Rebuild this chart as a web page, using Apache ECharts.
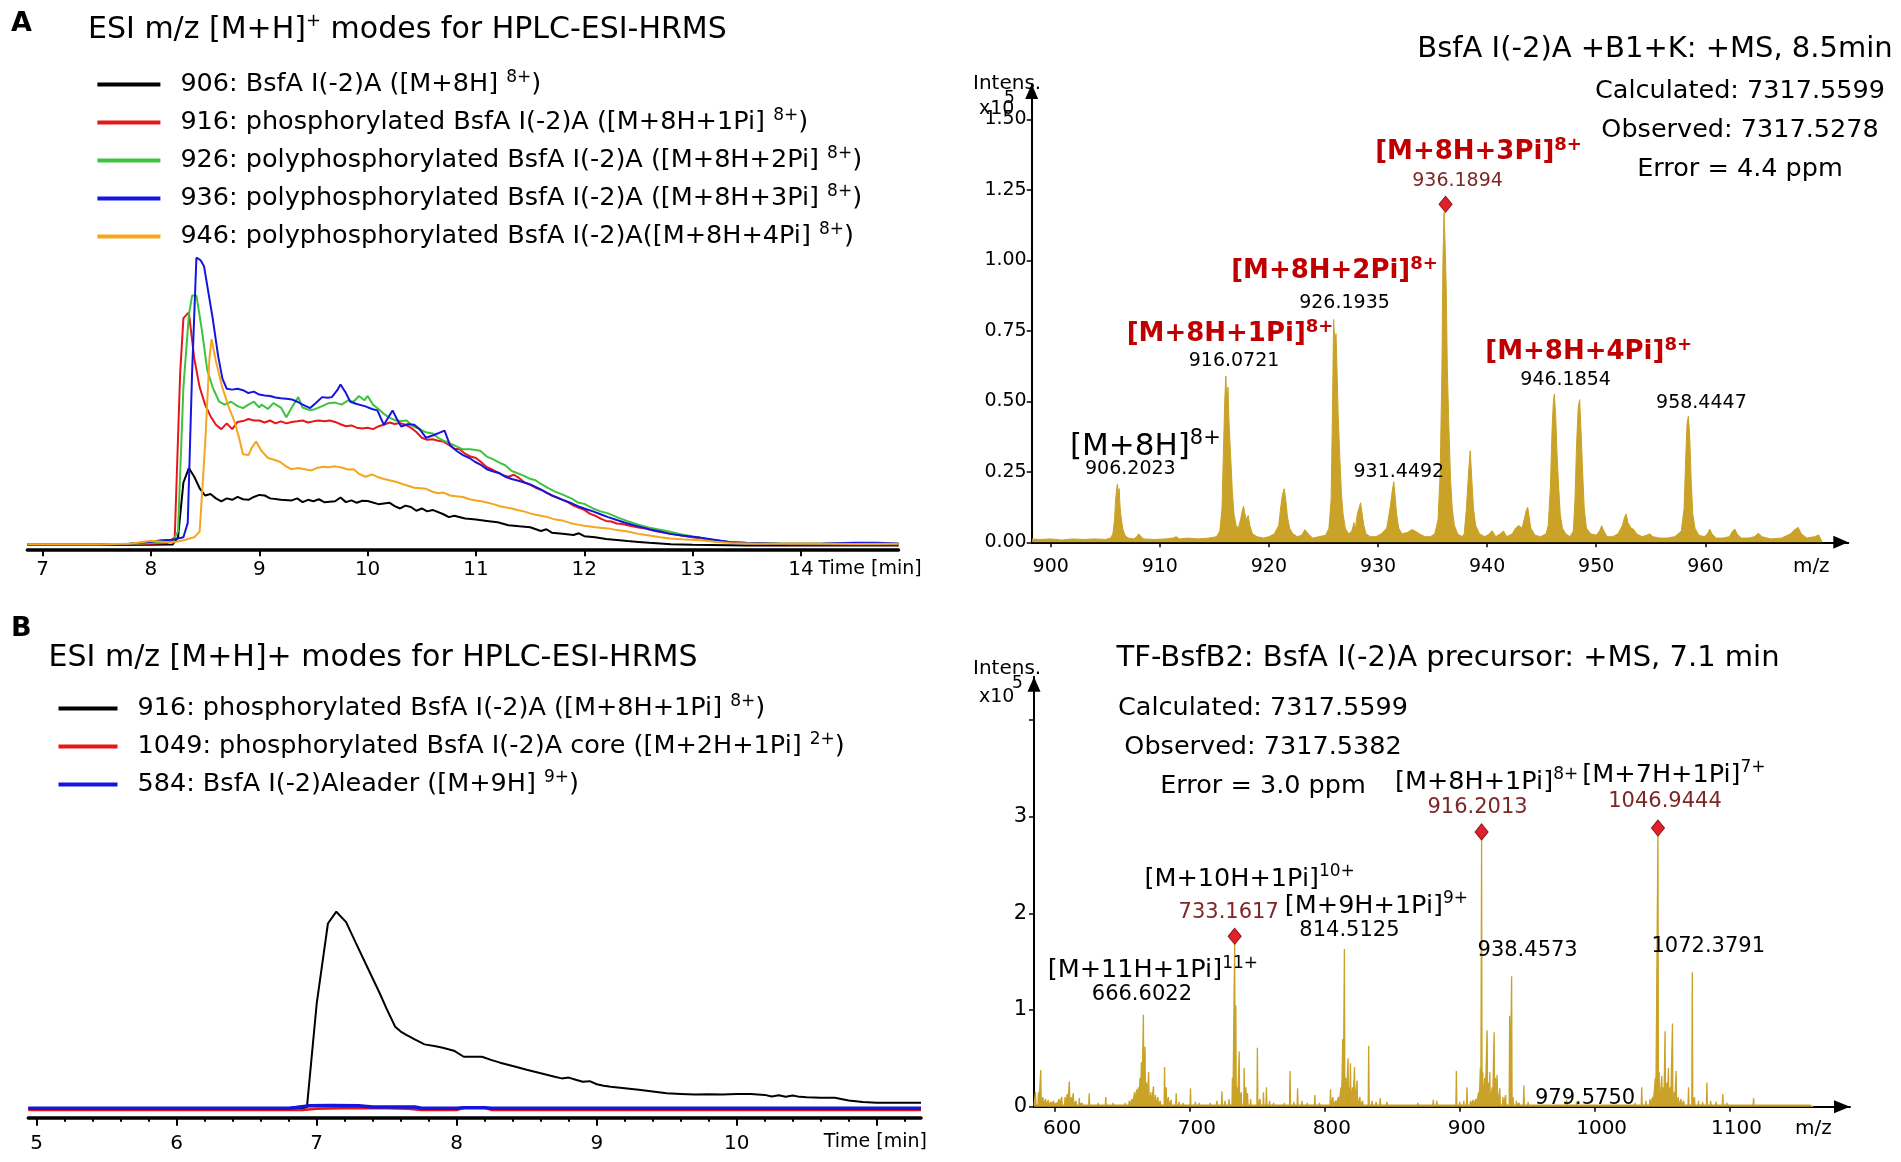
<!DOCTYPE html>
<html>
<head>
<meta charset="utf-8">
<script src="https://cdn.jsdelivr.net/npm/echarts@6/dist/echarts.min.js"></script>
<style>
html,body{margin:0;padding:0;background:#ffffff;}
#chart{width:1901px;height:1162px;}
</style>
</head>
<body>
<div id="chart"></div>
<script>
// ---------------- DATA ----------------
// Panel A chromatogram (extracted ion chromatograms), time [min], relative intensity
const seriesNamesA = [
  '906: BsfA I(-2)A ([M+8H] 8+)',
  '916: phosphorylated BsfA I(-2)A ([M+8H+1Pi] 8+)',
  '926: polyphosphorylated BsfA I(-2)A ([M+8H+2Pi] 8+)',
  '936: polyphosphorylated BsfA I(-2)A ([M+8H+3Pi] 8+)',
  '946: polyphosphorylated BsfA I(-2)A([M+8H+4Pi] 8+)'
];
const eic906 = [[6.86,0.3],[7.5,0.3],[8.0,0.4],[8.2,0.5],[8.25,3],[8.3,22],[8.35,27],[8.4,24],[8.45,20],[8.5,17.5],[8.55,18],[8.6,16.5],[8.65,15.5],[8.7,16.5],[8.75,16],[8.8,17],[8.85,16.2],[8.9,16],[8.95,17],[9.0,17.7],[9.05,17.5],[9.1,16.5],[9.2,16],[9.3,15.8],[9.35,16.5],[9.4,15.2],[9.45,16],[9.5,15.5],[9.55,16.2],[9.6,15.2],[9.7,15.5],[9.75,16.8],[9.8,15.2],[9.85,15.8],[9.9,15],[9.95,15.7],[10.0,15.6],[10.1,14.5],[10.2,15],[10.25,13.8],[10.3,13],[10.35,14],[10.4,13.5],[10.45,12.2],[10.5,13],[10.55,12],[10.6,12.5],[10.7,11],[10.75,10],[10.8,10.5],[10.9,9.5],[11.0,9.2],[11.1,8.7],[11.2,8.2],[11.3,7.2],[11.4,6.8],[11.5,6.5],[11.6,5.2],[11.65,5.8],[11.7,4.6],[11.8,4.2],[11.9,3.8],[11.95,4.4],[12.0,3.4],[12.1,3],[12.2,2.4],[12.3,2.1],[12.4,1.7],[12.5,1.4],[12.6,1.1],[12.7,0.9],[12.8,0.6],[13.0,0.4],[13.5,0.2],[14.0,0.2],[14.9,0.2]];
const eic916 = [[6.86,0.5],[7.5,0.5],[8.0,0.8],[8.15,1],[8.22,3],[8.27,60],[8.3,79],[8.35,81],[8.4,65],[8.45,55],[8.5,49],[8.55,45],[8.6,42],[8.65,40.5],[8.7,42.5],[8.75,40.5],[8.8,43],[8.85,43.3],[8.9,44],[8.95,43.5],[9.0,43.5],[9.05,42.8],[9.1,43.5],[9.15,42.5],[9.2,43.2],[9.25,42.5],[9.3,43],[9.35,43.2],[9.4,43.5],[9.45,42.8],[9.5,43.2],[9.55,43.5],[9.6,43.2],[9.65,43.5],[9.7,43],[9.75,42.2],[9.8,41.5],[9.85,41.8],[9.9,41],[9.95,40.7],[10.0,41],[10.05,40.5],[10.1,41.5],[10.15,42],[10.2,42.8],[10.25,42.3],[10.3,42.6],[10.35,42],[10.4,41],[10.45,39.5],[10.5,37.5],[10.55,36.8],[10.6,37],[10.65,36.5],[10.7,36.2],[10.75,35],[10.8,33.7],[10.85,33.5],[10.9,32],[10.95,31],[11.0,30.5],[11.05,29],[11.1,27.3],[11.15,26.5],[11.2,25.5],[11.25,24.5],[11.3,24],[11.35,24.7],[11.4,23.5],[11.45,22],[11.5,21.2],[11.55,20.2],[11.6,19.5],[11.65,18.5],[11.7,17.5],[11.75,16.8],[11.8,16],[11.85,15.2],[11.9,14],[11.95,13.2],[12.0,12.5],[12.05,11.2],[12.1,10.5],[12.15,9.5],[12.2,8.7],[12.25,8.5],[12.3,7.8],[12.35,7.6],[12.4,7.2],[12.5,6.4],[12.56,6.1],[12.65,5.2],[12.8,4.2],[12.9,3.6],[13.0,3.0],[13.1,2.5],[13.2,2],[13.35,1.3],[13.5,1],[13.9,0.6],[14.4,0.5],[14.9,0.5]];
const eic926 = [[6.86,0.5],[7.5,0.5],[7.9,0.9],[8.1,1.2],[8.2,1.5],[8.25,5],[8.3,55],[8.35,80],[8.38,86.8],[8.42,86.8],[8.47,75],[8.52,61],[8.57,55],[8.63,50],[8.68,49],[8.74,50],[8.8,48.5],[8.85,47.8],[8.9,49],[8.95,50],[9.0,48],[9.02,49],[9.08,47.5],[9.13,49.5],[9.2,48],[9.25,44.6],[9.3,48],[9.36,51.6],[9.4,48],[9.47,47],[9.52,47.5],[9.58,48.5],[9.64,49.5],[9.7,49.7],[9.76,49],[9.82,50.5],[9.87,50],[9.92,52],[9.97,50.5],[10.0,52],[10.05,49],[10.1,47.5],[10.15,45.8],[10.2,44.5],[10.26,43.5],[10.31,43.3],[10.36,43.5],[10.42,41.5],[10.48,40.5],[10.54,39.4],[10.6,39],[10.65,37.5],[10.7,36.5],[10.76,35.6],[10.82,34.5],[10.88,33.5],[10.95,33.5],[11.04,33],[11.1,31],[11.16,30],[11.22,28.8],[11.27,28],[11.33,26],[11.4,25],[11.45,24.2],[11.49,23.4],[11.55,22.8],[11.6,21.5],[11.66,20.2],[11.72,19],[11.8,17.8],[11.88,16.5],[11.94,15.1],[12.0,14.6],[12.08,13],[12.15,12],[12.22,11.3],[12.3,10],[12.4,8.6],[12.5,7.4],[12.6,6.3],[12.7,5.6],[12.79,4.9],[12.9,4],[13.0,3.3],[13.07,2.9],[13.2,2],[13.35,1.3],[13.5,1.1],[13.8,0.9],[14.2,0.8],[14.5,1],[14.6,0.7],[14.9,0.8]];
const eic936 = [[6.86,0.5],[7.5,0.6],[7.8,0.8],[8.0,1.5],[8.1,2],[8.2,2.2],[8.3,3],[8.34,8],[8.38,60],[8.42,100],[8.46,99],[8.49,97],[8.53,88],[8.57,79],[8.62,66],[8.66,58],[8.7,54.5],[8.75,54.2],[8.8,54.5],[8.85,54],[8.9,53],[8.95,53.5],[9.0,52.5],[9.05,52.2],[9.1,52],[9.15,51.5],[9.2,51.2],[9.25,51],[9.3,50.8],[9.35,50],[9.4,49],[9.47,47.8],[9.52,49.5],[9.58,51.6],[9.63,51.4],[9.67,51.6],[9.72,54],[9.75,56],[9.8,53],[9.84,50],[9.9,49.2],[9.98,48.4],[10.04,47.5],[10.09,47],[10.15,42],[10.23,47],[10.27,44],[10.31,41.4],[10.37,42.2],[10.43,42],[10.48,40.5],[10.54,37.5],[10.6,38.3],[10.66,39.2],[10.71,40],[10.76,35],[10.82,33],[10.88,31.5],[10.94,30.5],[10.99,29.2],[11.05,28],[11.1,26.6],[11.16,25.8],[11.22,25.2],[11.27,24],[11.33,23.2],[11.4,22.5],[11.49,21.5],[11.55,20.5],[11.6,19.5],[11.66,18.3],[11.72,17.2],[11.8,16],[11.87,15],[11.94,13.8],[12.0,13],[12.08,12],[12.15,11],[12.22,10],[12.3,9],[12.4,7.8],[12.5,6.8],[12.6,5.8],[12.7,5],[12.79,4.2],[12.9,3.6],[13.0,3.2],[13.07,2.9],[13.2,2.2],[13.35,1.3],[13.5,1],[13.8,0.8],[14.2,0.9],[14.5,1.1],[14.7,1.1],[14.9,0.9]];
const eic946 = [[6.86,0.6],[7.5,0.6],[7.8,0.8],[7.9,1.2],[8.0,1.8],[8.1,1.5],[8.2,1.2],[8.3,2],[8.4,3],[8.45,5],[8.5,35],[8.54,65],[8.56,71.7],[8.6,64],[8.66,54.8],[8.72,48],[8.77,43.3],[8.81,38],[8.85,31.8],[8.9,31.5],[8.93,34],[8.97,36.2],[9.02,33],[9.08,30.5],[9.13,30],[9.19,29.2],[9.25,27.5],[9.3,26.6],[9.36,27],[9.42,26.6],[9.48,26.2],[9.53,27],[9.59,27.5],[9.64,27.3],[9.7,27.6],[9.76,27.2],[9.82,26.5],[9.87,26.6],[9.92,25],[9.98,24],[10.04,24.8],[10.1,23.8],[10.15,23.2],[10.2,22.8],[10.26,22.3],[10.32,21.5],[10.38,20.8],[10.43,20.2],[10.49,20],[10.54,19.8],[10.6,18.8],[10.65,18.3],[10.7,18.5],[10.76,17.5],[10.82,17.2],[10.88,17],[10.94,16.2],[11.0,15.8],[11.05,15.5],[11.1,15.1],[11.16,14.5],[11.22,13.8],[11.27,13.4],[11.33,13],[11.38,12.5],[11.44,12],[11.5,11.3],[11.55,10.8],[11.6,10.5],[11.66,10],[11.72,9.3],[11.8,8.8],[11.87,8],[11.94,7.4],[12.0,7],[12.1,6.5],[12.22,6.1],[12.3,5.5],[12.4,5],[12.5,4.2],[12.6,3.6],[12.7,3.0],[12.79,2.6],[12.9,2.3],[13.07,2],[13.2,1.5],[13.35,1],[13.6,0.8],[14.0,0.9],[14.5,0.7],[14.9,0.8]];

// Panel A mass spectrum (m/z, intensity x10^5), profile
const specA = [[898.3,0.012],[899,0.01],[900,0.012],[901,0.008],[902,0.012],[903,0.01],[904,0.012],[905,0.01],[905.5,0.015],
[905.7,0.03],[905.85,0.08],[905.95,0.15],[906.05,0.19],[906.12,0.207],[906.2,0.17],[906.28,0.19],[906.35,0.13],[906.45,0.09],[906.6,0.05],[906.8,0.025],[907.1,0.015],[907.6,0.012],
[907.9,0.02],[908.05,0.03],[908.2,0.025],[908.5,0.012],[909.5,0.01],[910.5,0.012],[911.2,0.015],[911.5,0.02],[911.8,0.012],[912.5,0.015],[913.5,0.012],[914.5,0.015],[915.2,0.02],
[915.5,0.04],[915.7,0.12],[915.85,0.35],[915.95,0.5],[916.05,0.59],[916.15,0.5],[916.25,0.55],[916.35,0.42],[916.5,0.3],[916.65,0.18],[916.8,0.1],[917.0,0.06],[917.2,0.05],
[917.4,0.08],[917.55,0.11],[917.67,0.128],[917.8,0.1],[917.95,0.08],[918.1,0.095],[918.25,0.06],[918.5,0.03],[918.9,0.02],[919.5,0.015],[920,0.02],[920.5,0.03],
[920.9,0.06],[921.1,0.13],[921.25,0.17],[921.4,0.19],[921.55,0.15],[921.7,0.09],[921.9,0.05],[922.2,0.03],[922.6,0.02],[923,0.025],[923.3,0.045],[923.6,0.03],[924,0.015],[924.6,0.02],[925.2,0.025],
[925.5,0.05],[925.7,0.15],[925.82,0.45],[925.93,0.79],[926.05,0.7],[926.15,0.74],[926.25,0.6],[926.35,0.45],[926.5,0.3],[926.65,0.17],[926.8,0.1],[927.0,0.05],[927.3,0.03],
[927.6,0.04],[927.8,0.07],[927.9,0.04],[928.1,0.1],[928.25,0.12],[928.4,0.14],[928.55,0.1],[928.7,0.06],[928.9,0.03],[929.3,0.02],[929.8,0.02],[930.3,0.03],
[930.8,0.05],[931.1,0.12],[931.3,0.18],[931.44,0.215],[931.55,0.17],[931.7,0.1],[931.9,0.05],[932.2,0.03],[932.7,0.035],[933.1,0.045],[933.4,0.04],[933.8,0.03],[934.3,0.02],[934.8,0.02],[935.2,0.03],
[935.5,0.08],[935.7,0.25],[935.85,0.6],[935.95,1.0],[936.05,1.17],[936.15,1.05],[936.25,0.9],[936.35,0.62],[936.5,0.4],[936.65,0.22],[936.8,0.12],[937.0,0.06],[937.3,0.03],[937.7,0.02],
[937.9,0.03],[938.1,0.12],[938.3,0.25],[938.45,0.325],[938.6,0.22],[938.75,0.12],[938.95,0.06],[939.3,0.03],[939.8,0.02],[940.2,0.03],[940.45,0.041],[940.8,0.02],[941.2,0.03],[941.5,0.04],[941.8,0.02],[942.3,0.03],[942.6,0.05],[942.9,0.06],[943.2,0.05],
[943.45,0.09],[943.6,0.115],[943.72,0.124],[943.85,0.09],[944.0,0.05],[944.4,0.025],[944.9,0.02],[945.4,0.03],
[945.6,0.06],[945.8,0.2],[945.95,0.4],[946.07,0.5],[946.16,0.526],[946.28,0.45],[946.4,0.32],[946.55,0.2],[946.7,0.1],[946.9,0.05],[947.2,0.03],[947.6,0.02],[947.9,0.04],
[948.05,0.15],[948.2,0.35],[948.35,0.48],[948.48,0.506],[948.6,0.4],[948.75,0.25],[948.9,0.12],[949.1,0.05],[949.5,0.03],[950,0.025],[950.3,0.04],[950.5,0.059],[950.7,0.04],[951,0.02],[951.5,0.02],[952,0.03],
[952.4,0.06],[952.6,0.09],[952.74,0.1],[952.9,0.07],[953.2,0.05],[953.4,0.047],[953.7,0.03],[954.2,0.02],[954.6,0.025],[954.9,0.03],[955.2,0.02],[955.8,0.015],[956.5,0.015],[957.2,0.02],[957.8,0.04],
[958.05,0.12],[958.2,0.3],[958.32,0.42],[958.44,0.447],[958.56,0.38],[958.7,0.22],[958.85,0.1],[959.05,0.05],[959.4,0.025],[959.9,0.02],[960.2,0.03],[960.4,0.047],[960.6,0.03],[961,0.015],[961.6,0.015],[962.2,0.02],[962.5,0.04],[962.7,0.047],[962.9,0.03],[963.3,0.015],[964,0.015],[964.5,0.02],[964.85,0.032],[965.2,0.02],[966,0.012],[967,0.015],[967.8,0.03],[968.2,0.045],[968.5,0.053],[968.8,0.03],[969.3,0.015],[970,0.02],[970.4,0.026],[970.7,0]];

// Panel A annotated peaks [m/z, intensity]
const mzLabelsA = [[906.2023,0.207],[916.0721,0.59],[926.1935,0.79],[931.4492,0.215],[936.1894,1.17],[946.1854,0.526],[958.4447,0.447]];
const ionLabelsA = [['[M+8H]','8+',906.2023,0.207],['[M+8H+1Pi]','8+',916.0721,0.59],['[M+8H+2Pi]','8+',926.1935,0.79],['[M+8H+3Pi]','8+',936.1894,1.17],['[M+8H+4Pi]','8+',946.1854,0.526]];
const markedA = [[936.1894,1.17]];
const infoA = ['Calculated: 7317.5599','Observed: 7317.5278','Error = 4.4 ppm'];

// Panel B chromatogram
const seriesNamesB = [
  '916: phosphorylated BsfA I(-2)A ([M+8H+1Pi] 8+)',
  '1049: phosphorylated BsfA I(-2)A core ([M+2H+1Pi] 2+)',
  '584: BsfA I(-2)Aleader ([M+9H] 9+)'
];
const eicB916 = [[4.94,0],[6.0,0],[6.9,0],[6.93,0.5],[7.0,53.4],[7.08,94],[7.14,100],[7.21,94.7],[7.28,84],[7.36,72],[7.45,58.5],[7.5,50.5],[7.56,41.5],[7.6,39],[7.64,37.3],[7.7,35],[7.77,32.5],[7.85,31.5],[7.9,30.8],[7.98,29.3],[8.05,26.2],[8.12,26.2],[8.18,26.2],[8.25,24.5],[8.31,23.2],[8.4,21.5],[8.5,19.6],[8.6,17.8],[8.7,16.0],[8.75,15.2],[8.8,15.6],[8.85,14.5],[8.9,13.5],[8.95,13.8],[9.0,12.2],[9.05,11.5],[9.1,11],[9.2,10.2],[9.3,9.4],[9.4,8.5],[9.5,7.6],[9.6,7.3],[9.7,7.0],[9.8,7.1],[9.9,7.0],[10.0,7.2],[10.1,7.2],[10.2,6.8],[10.25,6.0],[10.3,6.6],[10.35,5.9],[10.4,6.5],[10.45,5.8],[10.5,5.6],[10.6,5.4],[10.7,5.3],[10.8,4.0],[10.9,3.2],[11.0,2.8],[11.316,2.8]];
const eicB1049 = [[4.94,-0.9],[6.9,-0.9],[7.0,-0.2],[7.2,0],[7.5,0],[7.65,-0.2],[7.75,-0.9],[8.0,-0.9],[8.05,0.2],[8.2,0.2],[8.25,-0.9],[11.316,-0.9]];
const eicB584 = [[4.94,0],[6.8,0],[6.85,0.4],[6.95,1.3],[7.1,1.4],[7.3,1.3],[7.4,0.6],[7.7,0.6],[7.75,0],[8.0,0],[8.05,0.3],[8.2,0.3],[8.25,0],[11.316,0]];

// Panel B mass spectrum: centroid peaks [m/z, intensity x10^5]
const baselineB = 0.015;
const peaksB = [[585.5,0.15],[587.7,0.15],[589.4,0.38],[591,0.1],[593,0.08],[595,0.07],[597,0.05],[599,0.06],[601,0.04],[603,0.08],[605,0.1],[607.4,0.1],[609,0.13],[610.6,0.26],[612,0.1],[613.5,0.14],[615.5,0.06],[618,0.09],[620,0.04],[625.3,0.14],[628,0.03],[632,0.04],[637.6,0.1],[640,0.03],[643,0.04],[648,0.03],[652,0.04],[655,0.06],[657,0.08],[659,0.15],[660.5,0.18],[661.8,0.2],[663,0.3],[664,0.46],[665.5,0.95],[666.7,0.62],[667.8,0.25],[669.4,0.36],[671,0.15],[673,0.21],[674.5,0.12],[676.3,0.1],[678,0.06],[681.2,0.41],[682.4,0.2],[684,0.1],[686,0.07],[689.8,0.14],[692,0.05],[695,0.04],[700.4,0.19],[704,0.05],[707,0.04],[711,0.03],[715,0.04],[720,0.06],[723.7,0.16],[726,0.06],[729,0.08],[731.5,0.3],[733.16,1.7],[734,1.05],[735,0.2],[736.5,0.57],[738,0.15],[740.2,0.4],[741.5,0.2],[742.7,0.14],[745,0.08],[750,0.61],[752,0.08],[754.5,0.15],[756.7,0.2],[759,0.06],[762,0.04],[766,0.03],[770,0.04],[774.2,0.37],[777,0.05],[779.8,0.19],[783,0.06],[787,0.04],[792.6,0.12],[796,0.04],[800,0.03],[804.2,0.18],[806,0.1],[808,0.06],[810,0.1],[812,0.2],[813.3,0.7],[814.5,1.63],[815.5,0.3],[817.2,0.5],[818,0.2],[819,0.45],[820.5,0.2],[822,0.41],[823.9,0.27],[826,0.1],[828,0.06],[832.5,0.63],[835,0.06],[838,0.05],[841,0.09],[846,0.05],[850,0.03],[856,0.02],[862,0.03],[868.9,0.04],[875,0.03],[880.4,0.07],[883,0.06],[888,0.03],[892,0.03],[897.5,0.37],[900,0.05],[903,0.06],[905.4,0.2],[908,0.06],[909.9,0.07],[912,0.08],[914,0.15],[915.3,0.4],[916.2,2.78],[917,0.36],[918.5,0.3],[920.3,0.79],[921.5,0.25],[922.3,0.36],[924,0.2],[925.5,0.77],[926.5,0.3],[927.7,0.33],[929.7,0.19],[932,0.1],[934,0.12],[937,0.94],[938.46,1.35],[939.5,0.1],[942,0.06],[944,0.04],[947.5,0.22],[950.7,0.05],[955,0.03],[960,0.03],[965,0.02],[970,0.03],[975,0.03],[979.2,0.07],[983,0.03],[986.6,0.05],[990,0.03],[995,0.02],[1000,0.03],[1005,0.02],[1010,0.03],[1015,0.02],[1020,0.03],[1025,0.03],[1030,0.04],[1034.9,0.2],[1038,0.06],[1041,0.08],[1043,0.1],[1045,0.3],[1046.94,2.82],[1047.8,0.36],[1049.8,0.32],[1051,0.2],[1052.2,0.78],[1053.5,0.25],[1054.7,0.4],[1056,0.2],[1057.7,0.86],[1059,0.15],[1060.4,0.37],[1062,0.1],[1064,0.08],[1066,0.06],[1069.6,0.2],[1072.38,1.39],[1074,0.1],[1077,0.06],[1080,0.05],[1083.2,0.25],[1086,0.06],[1090,0.05],[1095,0.13],[1098,0.04],[1102,0.03],[1106,0.03],[1110,0.03],[1117.8,0.09],[1122,0.03],[1128,0.02],[1135,0.02],[1140,0.03],[1146.3,0.03],[1150,0.02],[1156,0.02],[1160,0.02]];
const mzLabelsB = [[666.6022,0.95],[733.1617,1.7],[814.5125,1.63],[916.2013,2.78],[938.4573,1.35],[979.5750,0.07],[1046.9444,2.82],[1072.3791,1.39]];
const ionLabelsB = [['[M+11H+1Pi]','11+',666.6022,0.95],['[M+10H+1Pi]','10+',733.1617,1.7],['[M+9H+1Pi]','9+',814.5125,1.63],['[M+8H+1Pi]','8+',916.2013,2.78],['[M+7H+1Pi]','7+',1046.9444,2.82]];
const markedB = [[733.1617,1.7],[916.2013,2.78],[1046.9444,2.82]];
const infoB = ['Calculated: 7317.5599','Observed: 7317.5382','Error = 3.0 ppm'];

// Tick values
const ticksChromA = [7,8,9,10,11,12,13,14];
const ticksSpecAx = [900,910,920,930,940,950,960];
const ticksSpecAy = [0,0.25,0.5,0.75,1,1.25,1.5];
const ticksChromB = [5,6,7,8,9,10,11];
const labelsChromB = [5,6,7,8,9,10];
const minorTicksChromB = [5.2,5.4,5.6,5.8,6.2,6.4,6.6,6.8,7.2,7.4,7.6,7.8,8.2,8.4,8.6,8.8,9.2,9.4,9.6,9.8,10.2,10.4,10.6,10.8,11.2];
const ticksSpecBx = [600,700,800,900,1000,1100];
const ticksSpecBy = [0,1,2,3,4];
const labelsSpecBy = [0,1,2,3];

// ---------------- STYLES ----------------
const FONT = 'DejaVu Sans';
const GOLD = '#C9A227';
const colorsA = ['#000000','#E8161B','#3EC33E','#1515E0','#F5A51E'];
const colorsB = ['#000000','#E8161B','#1515E0'];
const DARKRED = '#7E2626';
const RED = '#C00000';

// label offsets (px) relative to peak apex
const numOffA = {'906.2023':[12,-15],'916.0721':[8,-15],'926.1935':[8,-16],'931.4492':[5,-10],'936.1894':[12,-31],'946.1854':[11,-14],'958.4447':[13,-13]};
const ionOffA = {'906.2023':[27,-37],'916.0721':[4,-42],'926.1935':[-2,-48],'936.1894':[33,-60],'946.1854':[34,-42]};
const numOffB = {'666.6022':[-3,-20],'733.1617':[-6,-30],'814.5125':[5,-19],'916.2013':[-4,-30],'938.4573':[16,-26],'979.575':[18,-1],'1046.9444':[7,-32],'1072.3791':[16,-26]};
const ionOffB = {'666.6022':[8,-44],'733.1617':[15,-63],'814.5125':[32,-43],'916.2013':[5,-56],'1046.9444':[16,-59]};
const redNumsB = ['733.1617','916.2013','1046.9444'];

// ---------------- BUILD ----------------
const specBLine = [[584.4, baselineB]];
peaksB.forEach(p => { specBLine.push([p[0]-0.35, baselineB], [p[0], p[1]], [p[0]+0.35, baselineB]); });
specBLine.push([1162, 0]);

const ZW = '\u200B'; // keeps B legend names distinct from A
function legendFmt(name) {
  const n = name.replace(ZW, '');
  const m = n.match(/^(.*) (\d+\+)\)$/);
  if (!m) return '{f|' + n + '}';
  return '{f|' + m[1] + ' }{s|' + m[2] + '}{t|)}';
}
const legendRich = {
  f: {fontSize: 25.5, fontFamily: FONT, fontWeight: 'normal', color: '#000', lineHeight: 30, padding: [0,0,0,15]},
  t: {fontSize: 25.5, fontFamily: FONT, fontWeight: 'normal', color: '#000', lineHeight: 30},
  s: {fontSize: 17, fontFamily: FONT, fontWeight: 'normal', color: '#000', lineHeight: 18, verticalAlign: 'top'}
};

function lineSeries(name, data, color, xi, yi, width, z) {
  return {type: 'line', name: name, data: data, xAxisIndex: xi, yAxisIndex: yi,
    showSymbol: false, symbol: 'none', smooth: false, z: z || 2,
    lineStyle: {color: color, width: width}, itemStyle: {color: color}, emphasis: {disabled: true}};
}

function numLabelSeries(list, offs, xi, yi, size, redKeys) {
  return {type: 'scatter', xAxisIndex: xi, yAxisIndex: yi, symbol: 'circle', symbolSize: 1, z: 6,
    itemStyle: {color: 'rgba(0,0,0,0)', opacity: 1}, silent: true, emphasis: {disabled: true},
    data: list.map(p => {
      const key = String(p[0]);
      const isRed = redKeys && redKeys.indexOf(key) >= 0;
      return {value: [p[0], p[1]], label: {show: true, position: 'inside', offset: offs[key] || [0,-15],
        formatter: q => q.value[0].toFixed(4), fontSize: size, fontFamily: FONT, fontWeight: 'normal',
        color: isRed ? DARKRED : '#000', align: 'center', verticalAlign: 'middle', opacity: 1}};
    })};
}

function ionLabelSeries(list, offs, xi, yi, styleFor) {
  return {type: 'scatter', xAxisIndex: xi, yAxisIndex: yi, symbol: 'circle', symbolSize: 1, z: 6,
    itemStyle: {color: 'rgba(0,0,0,0)', opacity: 1}, silent: true, emphasis: {disabled: true},
    data: list.map(p => {
      const st = styleFor(p[0]);
      return {value: [p[2], p[3]], name: p[0], sup: p[1],
        label: {show: true, position: 'inside', offset: offs[String(p[2])] || [0,-40], opacity: 1,
          formatter: q => '{i|' + q.data.name + '}{s|' + q.data.sup + '}',
          align: 'center', verticalAlign: 'middle',
          rich: {
            i: {fontSize: st.size, fontWeight: st.weight, color: st.color, fontFamily: FONT, lineHeight: st.size + 6},
            s: {fontSize: st.sup, fontWeight: st.weight, color: st.color, fontFamily: FONT, lineHeight: st.sup + 2, verticalAlign: 'top'}
          }}};
    })};
}

function markSeries(list, xi, yi, off) {
  return {type: 'scatter', xAxisIndex: xi, yAxisIndex: yi, symbol: 'diamond', symbolSize: [13, 16],
    symbolOffset: [0, off], z: 7, silent: true, emphasis: {disabled: true},
    itemStyle: {color: '#E0202A', borderColor: '#8E1515', borderWidth: 1, opacity: 1},
    data: list.map(p => [p[0], p[1]])};
}

const plain = (size) => ({fontSize: size, fontFamily: FONT, color: '#000', fontWeight: 'normal'});

const option = {
  animation: false,
  backgroundColor: '#ffffff',
  textStyle: {fontFamily: FONT, color: '#000'},
  title: [
    {text: 'A', left: 11, top: 24, textVerticalAlign: 'middle', padding: 0, textStyle: {fontSize: 27, fontWeight: 'bold', color: '#000', fontFamily: FONT}},
    {text: 'B', left: 11, top: 629, textVerticalAlign: 'middle', padding: 0, textStyle: {fontSize: 27, fontWeight: 'bold', color: '#000', fontFamily: FONT}},
    {text: '{a|ESI m/z [M+H]}{s|+}{a| modes for HPLC-ESI-HRMS}', left: 88, top: 30.5, textVerticalAlign: 'middle', padding: 0,
      textStyle: {fontWeight: 'normal', rich: {
        a: {fontSize: 30, fontFamily: FONT, fontWeight: 'normal', color: '#000', lineHeight: 36},
        s: {fontSize: 18, fontFamily: FONT, fontWeight: 'normal', color: '#000', lineHeight: 20, verticalAlign: 'top'}}}},
    {text: 'ESI m/z [M+H]+ modes for HPLC-ESI-HRMS', left: 48.6, top: 658, textVerticalAlign: 'middle', padding: 0, textStyle: plain(30)},
    {text: 'BsfA I(-2)A +B1+K: +MS, 8.5min', left: 1655, top: 49, textAlign: 'center', textVerticalAlign: 'middle', padding: 0, textStyle: plain(29)},
    {text: 'TF-BsfB2: BsfA I(-2)A precursor: +MS, 7.1 min', left: 1448, top: 658, textAlign: 'center', textVerticalAlign: 'middle', padding: 0, textStyle: plain(29)},
    {text: infoA.join('\n'), left: 1740, top: 130, textAlign: 'center', textVerticalAlign: 'middle', padding: 0,
      textStyle: Object.assign(plain(25.5), {lineHeight: 39})},
    {text: infoB.join('\n'), left: 1263, top: 747, textAlign: 'center', textVerticalAlign: 'middle', padding: 0,
      textStyle: Object.assign(plain(25.5), {lineHeight: 39})},
    {text: 'Intens.', left: 973, top: 84, textVerticalAlign: 'middle', padding: 0, textStyle: plain(20)},
    {text: 'x10', left: 979, top: 109, textVerticalAlign: 'middle', padding: 0, textStyle: plain(19)},
    {text: '5', left: 1004, top: 99, textVerticalAlign: 'middle', padding: 0, textStyle: plain(17)},
    {text: 'Intens.', left: 973, top: 669, textVerticalAlign: 'middle', padding: 0, textStyle: plain(20)},
    {text: 'x10', left: 979, top: 697.5, textVerticalAlign: 'middle', padding: 0, textStyle: plain(19)},
    {text: '5', left: 1012, top: 684, textVerticalAlign: 'middle', padding: 0, textStyle: plain(17)}
  ],
  legend: [
    {data: seriesNamesA, orient: 'vertical', left: 92.4, top: 64.4, itemWidth: 63, itemHeight: 4, itemGap: 10,
      icon: 'rect', selectedMode: false, formatter: legendFmt, textStyle: {rich: legendRich}},
    {data: seriesNamesB.map(n => n + ZW), orient: 'vertical', left: 53.5, top: 688.5, itemWidth: 59, itemHeight: 4, itemGap: 10,
      icon: 'rect', selectedMode: false, formatter: legendFmt, textStyle: {rich: legendRich}}
  ],
  grid: [
    {left: 27.4, top: 257.5, width: 871.1, height: 291.8, containLabel: false, outerBoundsMode: 'none'},
    {left: 1031.7, top: 84, width: 816.6, height: 458.3, containLabel: false, outerBoundsMode: 'none'},
    {left: 28.3, top: 911.7, width: 892.7, height: 206, containLabel: false, outerBoundsMode: 'none'},
    {left: 1034, top: 676.7, width: 816, height: 430, containLabel: false, outerBoundsMode: 'none'}
  ],
  xAxis: [
    {type: 'value', gridIndex: 0, min: 6.86, max: 14.9, position: 'bottom',
      axisLine: {onZero: false, lineStyle: {color: '#000', width: 3.5}},
      axisTick: {customValues: ticksChromA, length: 7, lineStyle: {color: '#000', width: 2}},
      axisLabel: {customValues: ticksChromA, fontSize: 20, margin: 10, color: '#000', fontFamily: FONT, formatter: v => String(v)},
      splitLine: {show: false},
      name: 'Time [min]', nameLocation: 'end', nameGap: -80,
      nameTextStyle: {fontSize: 19, fontFamily: FONT, color: '#000', align: 'left', verticalAlign: 'top', padding: [10,0,0,0]}},
    {type: 'value', gridIndex: 1, min: 898.26, max: 973.1, position: 'bottom',
      axisLine: {onZero: false, lineStyle: {color: '#000', width: 2}, symbol: ['none','triangle'], symbolSize: [13, 15], symbolOffset: [0, -7.5]},
      axisTick: {customValues: ticksSpecAx, length: 5, lineStyle: {color: '#000', width: 1.5}},
      axisLabel: {customValues: ticksSpecAx, fontSize: 19, margin: 15, color: '#000', fontFamily: FONT, formatter: v => String(v)},
      splitLine: {show: false},
      name: 'm/z', nameLocation: 'end', nameGap: -55.4,
      nameTextStyle: {fontSize: 20, fontFamily: FONT, color: '#000', align: 'left', verticalAlign: 'top', padding: [14.7,0,0,0]}},
    {type: 'value', gridIndex: 2, min: 4.94, max: 11.316, position: 'bottom',
      axisLine: {onZero: false, lineStyle: {color: '#000', width: 3.5}},
      axisTick: {customValues: ticksChromB, length: 8, lineStyle: {color: '#000', width: 2}},
      axisLabel: {customValues: labelsChromB, fontSize: 20, margin: 15.6, color: '#000', fontFamily: FONT, formatter: v => String(v)},
      splitLine: {show: false},
      name: 'Time [min]', nameLocation: 'end', nameGap: -97.3,
      nameTextStyle: {fontSize: 19, fontFamily: FONT, color: '#000', align: 'left', verticalAlign: 'top', padding: [14.6,0,0,0]}},
    {type: 'value', gridIndex: 2, min: 4.94, max: 11.316, position: 'bottom',
      axisLine: {show: false, onZero: false},
      axisTick: {customValues: minorTicksChromB, length: 4, lineStyle: {color: '#000', width: 2}},
      axisLabel: {show: false}, splitLine: {show: false}},
    {type: 'value', gridIndex: 3, min: 584.4, max: 1189.3, position: 'bottom',
      axisLine: {onZero: false, lineStyle: {color: '#000', width: 2}, symbol: ['none','triangle'], symbolSize: [13, 16], symbolOffset: [0, -8]},
      axisTick: {customValues: ticksSpecBx, length: 5, lineStyle: {color: '#000', width: 1.5}},
      axisLabel: {customValues: ticksSpecBx, fontSize: 20, margin: 11.6, color: '#000', fontFamily: FONT, padding: [0,0,0,14], formatter: v => String(v)},
      splitLine: {show: false},
      name: 'm/z', nameLocation: 'end', nameGap: -55,
      nameTextStyle: {fontSize: 20, fontFamily: FONT, color: '#000', align: 'left', verticalAlign: 'top', padding: [11.6,0,0,0]}}
  ],
  yAxis: [
    {type: 'value', gridIndex: 0, min: -1.15, max: 100, show: false, splitLine: {show: false}},
    {type: 'value', gridIndex: 1, min: 0, max: 1.625, position: 'left',
      axisLine: {show: true, onZero: false, lineStyle: {color: '#000', width: 2}, symbol: ['none','triangle'], symbolSize: [13, 15], symbolOffset: [0, -7.5]},
      axisTick: {show: true, customValues: ticksSpecAy, length: 5, lineStyle: {color: '#000', width: 1.5}},
      axisLabel: {customValues: ticksSpecAy, fontSize: 19, margin: 5, color: '#000', fontFamily: FONT, formatter: v => v.toFixed(2)},
      splitLine: {show: false}},
    {type: 'value', gridIndex: 2, min: -4.8, max: 100, show: false, splitLine: {show: false}},
    {type: 'value', gridIndex: 3, min: 0, max: 4.447, position: 'left',
      axisLine: {show: true, onZero: false, lineStyle: {color: '#000', width: 2}, symbol: ['none','triangle'], symbolSize: [13, 15], symbolOffset: [0, -7.5]},
      axisTick: {show: true, customValues: ticksSpecBy, length: 5, lineStyle: {color: '#000', width: 1.5}},
      axisLabel: {customValues: labelsSpecBy, fontSize: 21, margin: 7, color: '#000', fontFamily: FONT, formatter: v => String(v)},
      splitLine: {show: false}}
  ],
  series: [
    lineSeries(seriesNamesA[0], eic906, colorsA[0], 0, 0, 2),
    lineSeries(seriesNamesA[1], eic916, colorsA[1], 0, 0, 2),
    lineSeries(seriesNamesA[2], eic926, colorsA[2], 0, 0, 2),
    lineSeries(seriesNamesA[3], eic936, colorsA[3], 0, 0, 2),
    lineSeries(seriesNamesA[4], eic946, colorsA[4], 0, 0, 2),
    {type: 'line', name: 'MS A', data: specA, xAxisIndex: 1, yAxisIndex: 1, showSymbol: false, symbol: 'none',
      lineStyle: {color: GOLD, width: 1}, areaStyle: {color: GOLD, opacity: 1}, itemStyle: {color: GOLD}, emphasis: {disabled: true}},
    numLabelSeries(mzLabelsA, numOffA, 1, 1, 19, ['936.1894']),
    ionLabelSeries(ionLabelsA, ionOffA, 1, 1, ion => ion === '[M+8H]'
      ? {size: 31, sup: 21, weight: 'normal', color: '#000'}
      : {size: 26, sup: 18, weight: 'bold', color: RED}),
    markSeries(markedA, 1, 1, -8),
    lineSeries(seriesNamesB[0] + ZW, eicB916, colorsB[0], 2, 2, 2, 2),
    lineSeries(seriesNamesB[1] + ZW, eicB1049, colorsB[1], 2, 2, 2.5, 3),
    lineSeries(seriesNamesB[2] + ZW, eicB584, colorsB[2], 2, 2, 3.5, 4),
    {type: 'line', name: 'MS B', data: specBLine, xAxisIndex: 4, yAxisIndex: 3, showSymbol: false, symbol: 'none',
      lineStyle: {color: GOLD, width: 1.3}, areaStyle: {color: GOLD, opacity: 1}, itemStyle: {color: GOLD}, emphasis: {disabled: true}},
    numLabelSeries(mzLabelsB, numOffB, 4, 3, 21, redNumsB),
    ionLabelSeries(ionLabelsB, ionOffB, 4, 3, () => ({size: 25.5, sup: 17, weight: 'normal', color: '#000'})),
    markSeries(markedB, 4, 3, -6)
  ]
};

const chart = echarts.init(document.getElementById('chart'), null, {renderer: 'canvas', width: 1901, height: 1162});
chart.setOption(option);
</script>
</body>
</html>
